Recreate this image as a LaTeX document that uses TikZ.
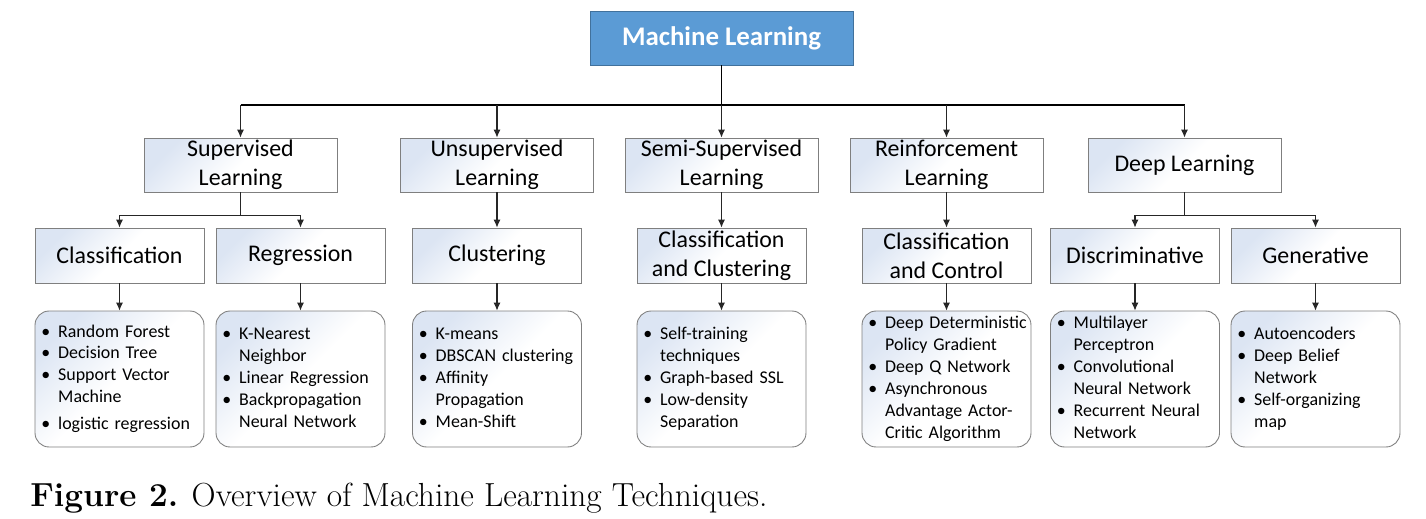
\documentclass[tikz,border=0pt]{standalone}
\usepackage{fontspec}
\newfontfamily\boxfont{Carlito}
\usetikzlibrary{arrows.meta,positioning}
\definecolor{mlblue}{HTML}{5B9BD5}
\definecolor{mledge}{HTML}{41719C}
\definecolor{boxtint}{HTML}{DCE5F3}
\definecolor{boxedge}{HTML}{7F7F7F}
\newcommand\mllist[1]{\begin{tabular}{@{}p{9.6pt}@{}l@{}}#1\end{tabular}}
\tikzset{
  mlbox/.style={draw=mledge, fill=mlblue, text=white, minimum width=5.26cm, minimum height=1.08cm,
    font=\boxfont\bfseries\fontsize{15.3}{18}\selectfont},
  tinted/.style={draw=boxedge, line width=0.5pt, top color=boxtint, bottom color=white,
    middle color=white, shading angle=45},
  catbox/.style={tinted, minimum width=3.86cm, minimum height=1.08cm, align=center, inner sep=0pt,
    font=\boxfont\fontsize{13.6}{16.4}\selectfont},
  subbox/.style={catbox, minimum width=3.38cm, minimum height=1.1cm},
  listbox/.style={tinted, rounded corners=8pt, minimum width=3.38cm, minimum height=2.72cm,
    text width=89pt, inner xsep=3.4pt, inner ysep=0pt, align=left,
    font=\boxfont\fontsize{10.2}{12.5}\selectfont},
  link/.style={draw=black!85, line width=0.6pt, -{Latex[length=4.5pt,width=4pt]}},
  bus/.style={draw=black, line width=1.1pt}
}
\begin{document}
\begin{tikzpicture}[x=0.02cm, y=-0.02cm]
\useasboundingbox (0,0) rectangle (1426,518);

\node[mlbox] (ml) at (721.5,38) {Machine Learning};

\node[catbox] (sup) at (240.5,165) {Supervised\\Learning};
\node[catbox] (uns) at (497,165) {Unsupervised\\Learning};
\node[catbox] (semi) at (721.5,165) {Semi-Supervised\\Learning};
\node[catbox] (rein) at (946.5,165) {Reinforcement\\Learning};
\node[catbox] (deep) at (1184.5,165) {Deep Learning};

\node[subbox] (cls) at (119.5,255.5) {Classification};
\node[subbox] (reg) at (300.5,255.5) {Regression};
\node[subbox] (clu) at (497,255.5) {Clustering};
\node[subbox] (cc) at (721.5,255.5) {Classification\\and Clustering};
\node[subbox] (cctrl) at (946.5,255.5) {Classification\\and Control};
\node[subbox] (dis) at (1135,255.5) {Discriminative};
\node[subbox] (gen) at (1315.5,255.5) {Generative};

\node[listbox] (cls-l) at (119.5,379) {\mllist{
  \textbullet & Random Forest\\
  \textbullet & Decision Tree\\
  \textbullet & Support Vector\\
  & Machine\\[2.8pt]
  \textbullet & logistic regression}};
\node[listbox] (reg-l) at (300.5,379) {\mllist{
  \textbullet & K-Nearest\\
  & Neighbor\\
  \textbullet & Linear Regression\\
  \textbullet & Backpropagation\\
  & Neural Network}};
\node[listbox] (clu-l) at (497,379) {\mllist{
  \textbullet & K-means\\
  \textbullet & DBSCAN clustering\\
  \textbullet & Affinity\\
  & Propagation\\
  \textbullet & Mean-Shift}};
\node[listbox] (cc-l) at (721.5,379) {\mllist{
  \textbullet & Self-training\\
  & techniques\\
  \textbullet & Graph-based SSL\\
  \textbullet & Low-density\\
  & Separation}};
\node[listbox] (cctrl-l) at (946.5,379) {\mllist{
  \textbullet & Deep Deterministic\\
  & Policy Gradient\\
  \textbullet & Deep Q Network\\
  \textbullet & Asynchronous\\
  & Advantage Actor-\\
  & Critic Algorithm}};
\node[listbox] (dis-l) at (1135,379) {\mllist{
  \textbullet & Multilayer\\
  & Perceptron\\
  \textbullet & Convolutional\\
  & Neural Network\\
  \textbullet & Recurrent Neural\\
  & Network}};
\node[listbox] (gen-l) at (1315.5,379) {\mllist{
  \textbullet & Autoencoders\\
  \textbullet & Deep Belief\\
  & Network\\
  \textbullet & Self-organizing\\
  & map}};

\coordinate (bus) at (721.5,105);
\draw[bus] (ml.south) -- (bus);
\draw[bus] (sup.north |- bus) -- (deep.north |- bus);
\foreach \n in {sup,uns,semi,rein,deep}
  \draw[link] (\n.north |- bus) -- (\n.north);

\foreach \p/\a/\b in {sup/cls/reg,deep/dis/gen}{
  \draw[link,-] (\p.south) -- ++(0,23) coordinate (\p-j);
  \draw[link] (\p-j) -| (\a.north);
  \draw[link] (\p-j) -| (\b.north);
}
\foreach \a/\b in {uns/clu,semi/cc,rein/cctrl}
  \draw[link] (\a) -- (\b);
\foreach \a in {cls,reg,clu,cc,cctrl,dis,gen}
  \draw[link] (\a) -- (\a-l);

\node[anchor=base west, inner sep=0pt, font=\fontsize{19}{23}\selectfont] (caption) at (30,506)
  {\textbf{Figure 2.} Overview of Machine Learning Techniques.};
\end{tikzpicture}
\end{document}
